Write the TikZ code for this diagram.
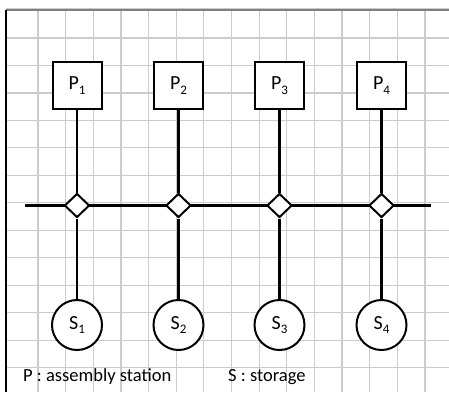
\documentclass[tikz,border=0pt]{standalone}
\usepackage{fontspec}
\setmainfont{Carlito}
\usetikzlibrary{shapes.geometric}
\definecolor{gridgray}{HTML}{CCCCCC}
\definecolor{bordergray}{HTML}{808080}
\newcommand{\lbl}[2]{#1\raisebox{-0.22em}{\fontsize{13}{14}\selectfont #2}}
\tikzset{
  gridline/.style={draw=gridgray, line width=1.2pt},
  pbox/.style={draw, line width=2pt, fill=white, minimum width=49pt, minimum height=47pt, inner sep=0pt, font=\fontsize{20}{22}\selectfont},
  sball/.style={draw, circle, line width=2pt, fill=white, minimum size=50pt, inner sep=0pt, font=\fontsize{20}{22}\selectfont},
  junc/.style={draw, diamond, line width=2pt, fill=white, minimum width=25pt, minimum height=24pt, inner sep=0pt},
  conn/.style={line width=2.3pt},
  legend/.style={anchor=base west, inner sep=0pt, font=\fontsize{18.5}{20}\selectfont}
}
\begin{document}
\begin{tikzpicture}[x=1pt,y=-1pt]
\useasboundingbox (0,0) rectangle (449,392);
\fill[white] (0,0) rectangle (449,392);
% grid
\foreach \k in {0,...,14} {
  \pgfmathsetmacro{\gx}{38+27.64*\k}
  \draw[gridline] (\gx,10) -- (\gx,392);
}
\foreach \k in {0,...,12} {
  \pgfmathsetmacro{\gy}{38+27.47*\k}
  \draw[gridline] (6,\gy) -- (449,\gy);
}
% borders
\draw[draw=gridgray, line width=1pt] (6,8.5) -- (449,8.5);
\draw[draw=bordergray, line width=1.6pt] (6,10) -- (449,10);
\draw[line width=2.4pt] (6,10) -- (6,392);
% main line
\coordinate (hl) at (25,205.5);
\coordinate (hr) at (431,205.5);
\draw[conn] (hl) -- (hr);
% nodes
\foreach \i/\x in {1/77,2/178.5,3/279.5,4/381.5} {
  \node[pbox] (p\i) at (\x,85.5) {\lbl{P}{\i}};
  \node[junc] (d\i) at (\x,205.5) {};
  \node[sball] (s\i) at (\x,325) {\lbl{S}{\i}};
  \draw[conn] (p\i) -- (d\i);
  \draw[conn] (d\i) -- (s\i);
}
% legend
\node[legend] (lp) at (23,381.5) {P : assembly station};
\node[legend] (ls) at (228,381.5) {S : storage};
\end{tikzpicture}
\end{document}
